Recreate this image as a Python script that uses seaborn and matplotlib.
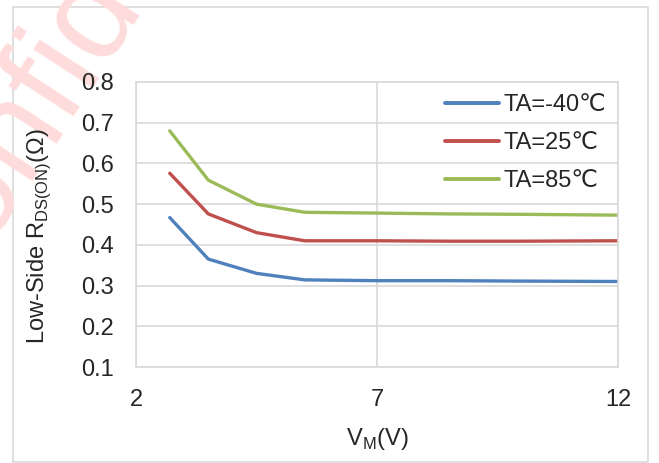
import pandas as pd
import seaborn as sns
import matplotlib.pyplot as plt
from matplotlib.patches import Rectangle

# values
vm = [2.7, 3.5, 4.5, 5.5, 7.0, 8.5, 10.0, 12.0]
r_m40 = [0.467, 0.365, 0.330, 0.314, 0.312, 0.312, 0.311, 0.310]
r_25 = [0.576, 0.476, 0.430, 0.410, 0.410, 0.409, 0.409, 0.410]
r_85 = [0.680, 0.559, 0.500, 0.480, 0.478, 0.476, 0.475, 0.473]
labels = ['TA=-40℃', 'TA=25℃', 'TA=85℃']
colors = ['#4F81BD', '#C0504D', '#9BBB59']

df = pd.DataFrame({
    'VM': vm * 3,
    'R': r_m40 + r_25 + r_85,
    'TA': [labels[0]] * len(vm) + [labels[1]] * len(vm) + [labels[2]] * len(vm),
})

sns.set_style('white')
plt.rcParams['font.family'] = ['Liberation Sans', 'DejaVu Sans']
plt.rcParams['mathtext.fontset'] = 'custom'
plt.rcParams['mathtext.rm'] = 'Liberation Sans'

fig = plt.figure(figsize=(6.59, 4.63), dpi=100)
ax = fig.add_axes([136 / 659, 1 - 367 / 463, (618 - 136) / 659, (367 - 82) / 463])
ax.set_facecolor('white')

# watermark (sits behind the plot area)
fig.text(-68 / 659, 1 - 325 / 463, 'Confidential', rotation=57, rotation_mode='anchor',
         ha='left', va='baseline', fontsize=96, color='#FFDCDC', zorder=-1)

# outer border
fig.patches.append(Rectangle((13 / 659, 1 - 462 / 463), (648 - 13) / 659, (462 - 7) / 463,
                             transform=fig.transFigure, fill=False,
                             edgecolor='#D9D9D9', lw=1.2, zorder=-2))

sns.lineplot(data=df, x='VM', y='R', hue='TA', palette=colors, lw=2.4,
             ax=ax, legend=True)

ax.set_xlim(2, 12)
ax.set_ylim(0.1, 0.8)
ax.set_xticks([2, 7, 12])
ax.set_yticks([0.1, 0.2, 0.3, 0.4, 0.5, 0.6, 0.7, 0.8])
ax.set_yticklabels(['%.1f' % v for v in ax.get_yticks()])
ax.grid(True, color='#D9D9D9', lw=1.2)
ax.set_axisbelow(True)
for s in ax.spines.values():
    s.set_color('#D9D9D9')
    s.set_linewidth(1.2)
ax.tick_params(length=0, labelsize=17, pad=16)

ax.set_xlabel('V$_\\mathrm{M}$(V)', fontsize=17, labelpad=11)
ax.set_ylabel('Low-Side R$_\\mathrm{DS(ON)}$(Ω)', fontsize=17, labelpad=20, y=0.46)

leg = ax.legend(frameon=False, fontsize=17, loc='upper right',
                bbox_to_anchor=(1.0, 1.0), handlelength=2.3,
                handletextpad=0.2, labelspacing=0.68, borderaxespad=0.1)
for h in leg.get_lines():
    h.set_linewidth(2.8)

fig.savefig('out.png', dpi=100)
